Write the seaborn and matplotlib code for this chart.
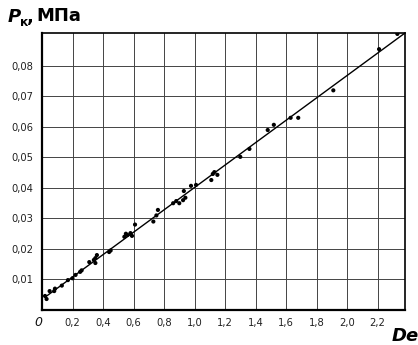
import matplotlib
matplotlib.use("Agg")
import matplotlib.pyplot as plt
import seaborn as sns
import pandas as pd

# experimental points (De, Pk MPa)
de_vals = [0.02, 0.03, 0.05, 0.08, 0.085, 0.13, 0.17, 0.20, 0.22, 0.25, 0.26,
           0.31, 0.34, 0.35, 0.35, 0.36, 0.44, 0.45, 0.54, 0.55, 0.56, 0.58,
           0.59, 0.61, 0.73, 0.75, 0.76, 0.86, 0.88, 0.90, 0.925, 0.93, 0.94,
           0.977, 1.01, 1.11, 1.12, 1.13, 1.15, 1.30, 1.36, 1.48, 1.52,
           1.63, 1.68, 1.91, 2.21, 2.33]
pk_vals = [0.0046, 0.0036, 0.0062, 0.0062, 0.0070, 0.0080, 0.0098, 0.0104,
           0.0115, 0.0125, 0.0130, 0.0157, 0.0164, 0.0154, 0.0170, 0.0180,
           0.0190, 0.0195, 0.0240, 0.0250, 0.0246, 0.0252, 0.0243, 0.0280,
           0.0290, 0.0310, 0.0328, 0.0350, 0.0357, 0.0350, 0.0360, 0.0390,
           0.0368, 0.0407, 0.0410, 0.0426, 0.0446, 0.0452, 0.0443, 0.0502,
           0.0528, 0.0590, 0.0607, 0.0630, 0.0630, 0.0720, 0.0855, 0.0905]

# approximating straight line
fit_x = [0.02, 2.38]
fit_y = [0.0042, 0.0908]

x_ticks = [0.2, 0.4, 0.6, 0.8, 1.0, 1.2, 1.4, 1.6, 1.8, 2.0, 2.2]
x_labels = ["0,2", "0,4", "0,6", "0,8", "1,0", "1,2", "1,4", "1,6", "1,8", "2,0", "2,2"]
y_ticks = [0.01, 0.02, 0.03, 0.04, 0.05, 0.06, 0.07, 0.08]
y_labels = ["0,01", "0,02", "0,03", "0,04", "0,05", "0,06", "0,07", "0,08"]

sns.set_style("white")
plt.rcParams['font.family'] = ['DejaVu Sans']

fig = plt.figure(figsize=(4.18, 3.45), dpi=100)
ax = fig.add_axes([42/418, 1-310/345, 363/418, 277/345])

pts = pd.DataFrame({"De": de_vals, "Pk": pk_vals})
line = pd.DataFrame({"De": fit_x, "Pk": fit_y})

sns.lineplot(data=line, x="De", y="Pk", ax=ax, color="black", lw=1.0, zorder=3)
sns.scatterplot(data=pts, x="De", y="Pk", ax=ax, color="black", s=9,
                edgecolor="none", zorder=4)

ax.set_xlim(0, 2.38)
ax.set_ylim(0, 0.0908)
ax.set_xticks(x_ticks)
ax.set_yticks(y_ticks)
ax.set_xticklabels(x_labels, fontsize=8, color="#222", fontstretch="condensed")
ax.set_yticklabels(y_labels, fontsize=8, color="#222", fontstretch="condensed")
ax.tick_params(length=0, pad=6)
ax.grid(True, color="#444444", lw=0.7)
ax.set_axisbelow(True)
ax.set_xlabel("")
ax.set_ylabel("")
for s in ["left", "bottom"]:
    ax.spines[s].set_linewidth(1.6)
    ax.spines[s].set_color("black")
for s in ["top", "right"]:
    ax.spines[s].set_linewidth(1.2)
    ax.spines[s].set_color("black")

# origin label
fig.text(38/418, 1-322/345, "0", fontsize=9, style="italic", ha="center",
         va="center", color="#111")
# axis titles
fig.text(8/418, 1-17/345, "P", fontsize=13, fontweight="bold", style="italic",
         ha="left", va="center", color="black")
fig.text(20/418, 1-23/345, "к", fontsize=9, fontweight="bold", ha="left",
         va="center", color="black")
fig.text(27/418, 1-17/345, ",", fontsize=13, fontweight="bold", ha="left",
         va="center", color="black")
fig.text(36/418, 1-16/345, "МПа", fontsize=13, fontweight="bold", ha="left",
         va="center", color="black")
fig.text(392/418, 1-336/345, "De", fontsize=13, fontweight="bold", style="italic",
         ha="left", va="center", color="black")

fig.savefig("out.png", dpi=100)
